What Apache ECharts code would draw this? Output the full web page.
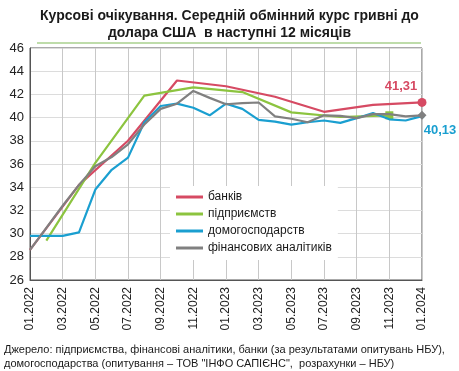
<!DOCTYPE html>
<html><head><meta charset="utf-8">
<script src="https://cdn.jsdelivr.net/npm/echarts@6/dist/echarts.min.js"></script>
<style>html,body{margin:0;padding:0;background:#fff}#c{width:459px;height:371px}</style>
</head><body><div id="c"></div>
<script>
var months = ['01.2022','02.2022','03.2022','04.2022','05.2022','06.2022','07.2022','08.2022','09.2022','10.2022','11.2022','12.2022',
  '01.2023','02.2023','03.2023','04.2023','05.2023','06.2023','07.2023','08.2023','09.2023','10.2023','11.2023','12.2023','01.2024'];
var banks = [28.6,null,null,34.2,null,null,38.0,null,null,43.2,null,null,42.7,null,null,41.8,null,null,40.5,null,null,41.1,null,null,41.31];
var enterprises = [null,29.4,null,null,36.1,null,null,41.9,null,null,42.6,null,null,42.2,null,null,40.45,null,null,40.05,null,null,40.2,null,null];
var households = [29.8,29.8,29.8,30.1,33.8,35.5,36.55,39.6,41.0,41.2,40.85,40.2,41.2,40.75,39.8,39.65,39.4,39.6,39.75,39.55,39.95,40.4,39.85,39.75,40.13];
var analysts = [28.6,30.5,32.4,34.2,35.8,36.6,37.7,39.4,40.75,41.2,42.3,41.7,41.15,41.25,41.3,40.1,39.9,39.6,40.2,40.15,39.95,40.3,40.3,40.1,40.2];
var names = ['банків','підприємств','домогосподарств','фінансових аналітиків'];
var colors = ['#d64a63','#8cc43f','#1a9fd0','#808080'];
var titleText = 'Курсові очікування. Середній обмінний курс гривні до\nдолара США  в наступні 12 місяців';
var sourceText = 'Джерело: підприємства, фінансові аналітики, банки (за результатами опитувань НБУ),\nдомогосподарства (опитування – ТОВ "ІНФО САПІЄНС",  розрахунки – НБУ)';

function lastIdx(arr){ for (var i = arr.length-1; i >= 0; i--) if (arr[i] != null) return i; return -1; }
function build(arr, opts){
  var li = lastIdx(arr);
  return arr.map(function(v, i){
    if (i === li && opts) {
      var o = {value: v, symbol: opts.symbol, symbolSize: opts.size, itemStyle: {color: opts.color}};
      if (opts.label) o.label = opts.label;
      return o;
    }
    return {value: v, symbol: 'none'};
  });
}
var font = 'Arial, "Liberation Sans", sans-serif';
var chart = echarts.init(document.getElementById('c'), null, {renderer: 'canvas'});
var dataSets = [banks, enterprises, households, analysts];
var endOpts = [
  {symbol: 'circle', size: 9, color: colors[0], label: {show: true, formatter: '41,31', position: 'top', offset: [-21, 0], color: colors[0], fontWeight: 'bold', fontSize: 13, fontFamily: font}},
  {symbol: 'rect', size: 8, color: colors[1]},
  {symbol: 'circle', size: 5, color: colors[2], label: {show: true, formatter: '40,13', position: 'bottom', offset: [18, 0], color: colors[2], fontWeight: 'bold', fontSize: 13, fontFamily: font}},
  {symbol: 'diamond', size: 9, color: colors[3]}
];
var series = dataSets.map(function(d, k){
  return {
    name: names[k], type: 'line', data: build(d, endOpts[k]), connectNulls: true,
    showSymbol: true, symbol: 'none', lineStyle: {width: 2.2, color: colors[k]}, itemStyle: {color: colors[k]},
    emphasis: {disabled: true}, animation: false, z: 2 + k
  };
});
chart.setOption({
  animation: false,
  title: {text: titleText, left: 'center', top: 3, textStyle: {fontSize: 14, fontWeight: 'bold', color: '#1a1a1a', fontFamily: font, lineHeight: 17}},
  grid: {left: 30, right: 37, top: 48, bottom: 91, show: true, borderColor: '#555', borderWidth: 1},
  legend: {
    orient: 'vertical', left: 170, top: 186, backgroundColor: '#fff', padding: [5, 6, 6, 6], itemGap: 5,
    itemWidth: 27, itemHeight: 3, icon: 'rect', data: names,
    textStyle: {fontSize: 12, color: '#1a1a1a', fontFamily: font}
  },
  xAxis: {
    type: 'category', data: months, boundaryGap: false,
    axisLine: {lineStyle: {color: '#555'}}, axisTick: {show: false},
    axisLabel: {interval: 1, rotate: 90, fontSize: 12, color: '#222', fontFamily: font, margin: 7},
    splitLine: {show: true, interval: 1, lineStyle: {color: '#c8c8c8'}}
  },
  yAxis: {
    type: 'value', min: 26, max: 46, interval: 2,
    axisLine: {show: true, lineStyle: {color: '#555'}}, axisTick: {show: false},
    axisLabel: {fontSize: 13, color: '#222', fontFamily: font, margin: 6},
    splitLine: {lineStyle: {color: '#dcdcdc'}}
  },
  graphic: [
    {type: 'line', shape: {x1: 37, y1: 43, x2: 421, y2: 43}, style: {stroke: '#a9d08e', lineWidth: 1.5}},
    {type: 'text', left: 4, top: 343, style: {text: sourceText, fontSize: 11, lineHeight: 14, fill: '#1a1a1a', fontFamily: font}}
  ],
  series: series
});
</script></body></html>
